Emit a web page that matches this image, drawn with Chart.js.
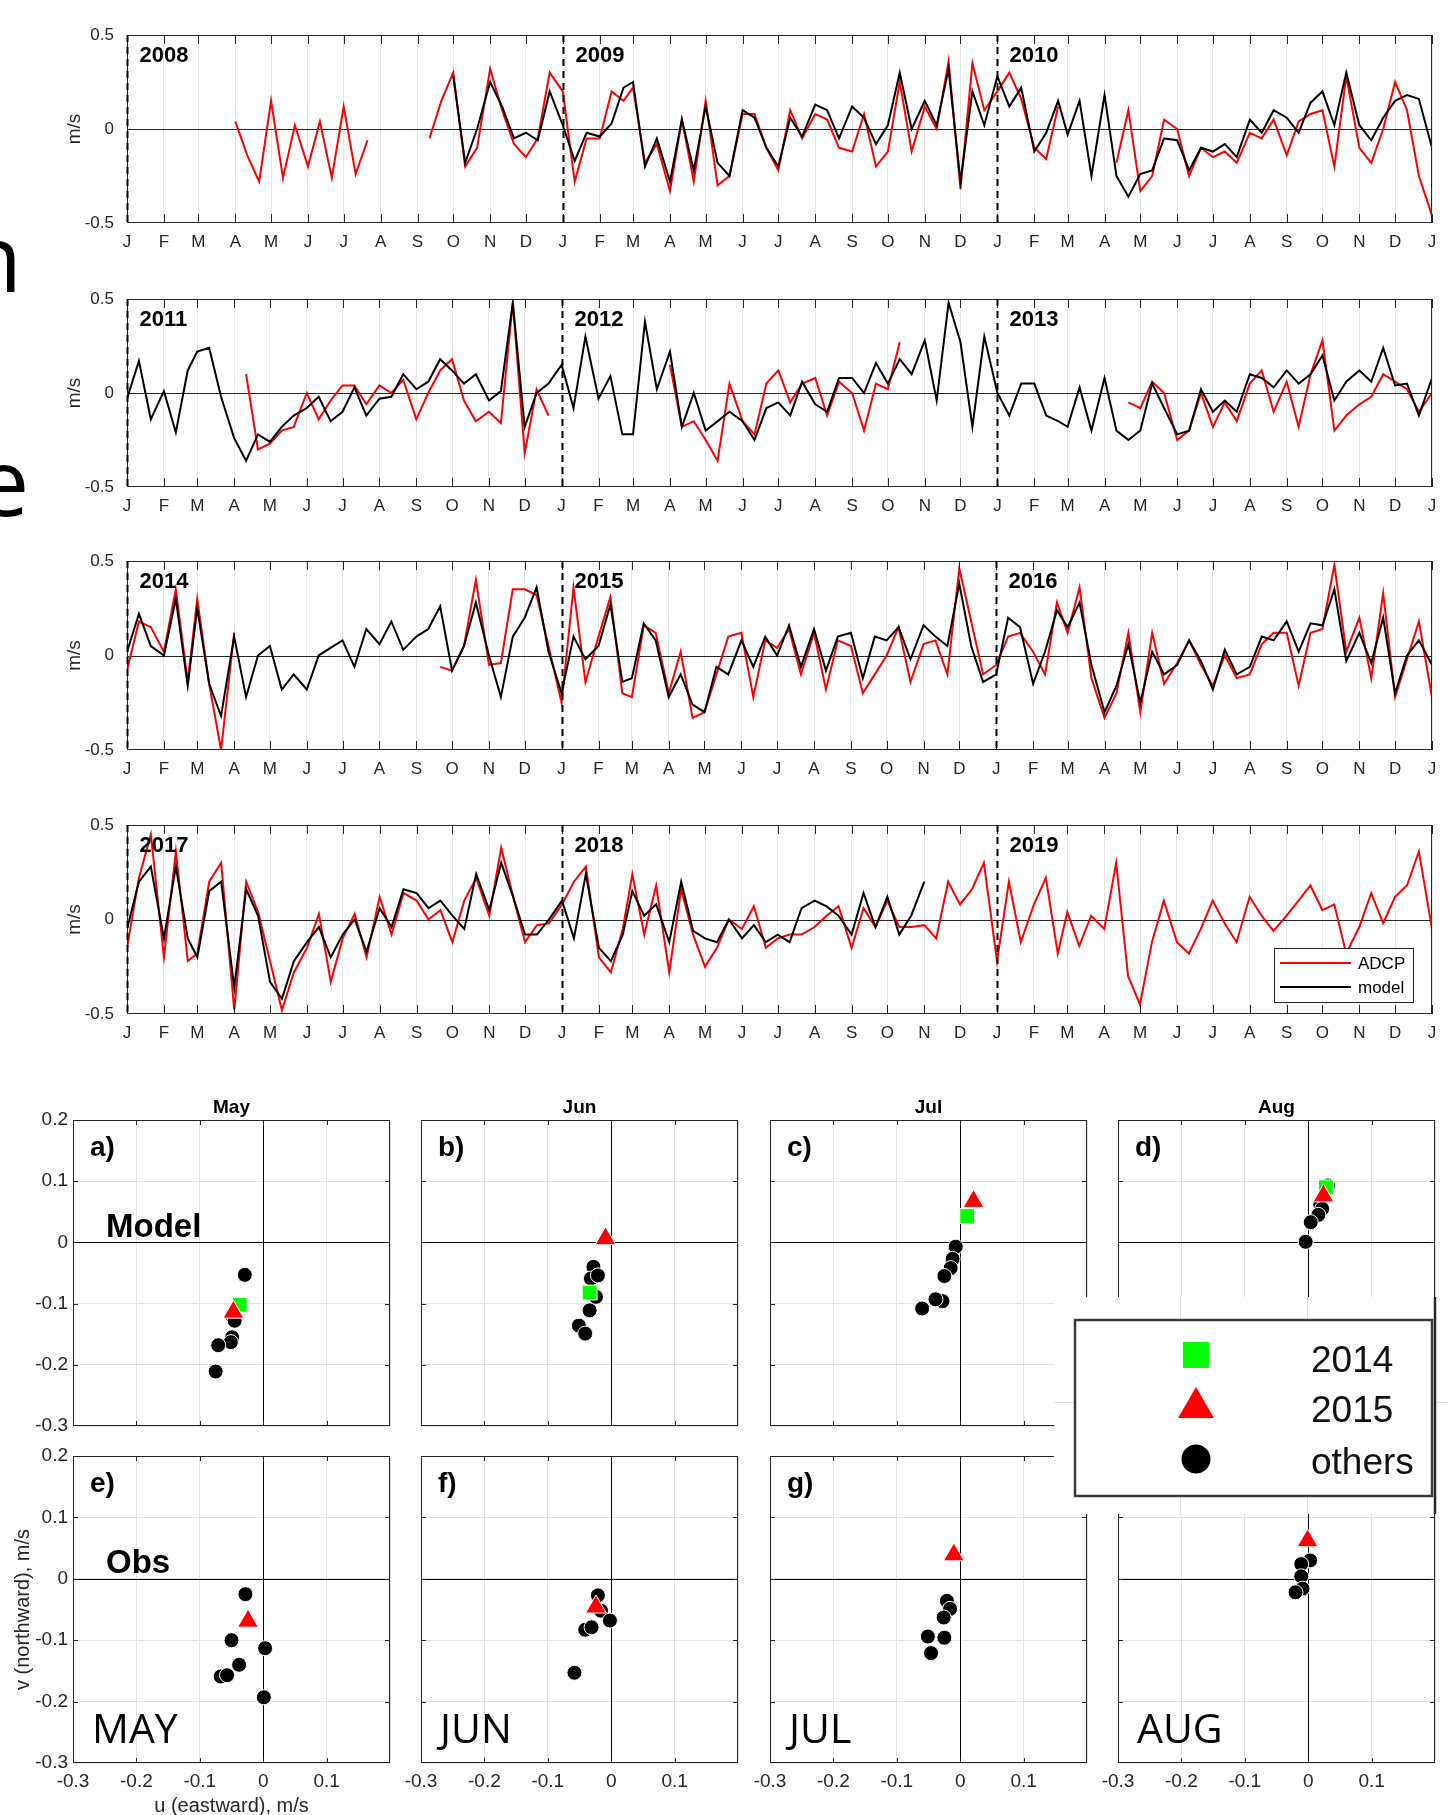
<!DOCTYPE html>
<html>
<head>
<meta charset="utf-8">
<title>ADCP vs model</title>
<script src="https://cdn.jsdelivr.net/npm/chart.js@4.4.1/dist/chart.umd.min.js"></script>
<style>
  html, body { margin: 0; background: #fff; }
  body { position: relative; width: 1448px; height: 1815px; overflow: hidden; }
  canvas { position: absolute; }
  .slide { position: absolute; font-family: "Open Sans", "Noto Sans", sans-serif; font-size: 93px; line-height: 93px; color: #000; }
</style>
</head>
<body>
<div class="slide" style="left:-35px; top:210px;">n</div>
<div class="slide" style="left:-23px; top:434px;">e</div>
<script>
const FONT = '"Liberation Sans", Arial, Helvetica, sans-serif';
const INK = '#262626';
Chart.defaults.font.family = FONT;
Chart.defaults.color = INK;

const monthLetters = ['J', 'F', 'M', 'A', 'M', 'J', 'J', 'A', 'S', 'O', 'N', 'D'];
const sampleDays = [1, 11, 21];   // three readings per month

// velocity, m/s (ADCP = red, model = black), 3 values per month Jan..Dec
const adcp2008 = [
  null, null, null,  null, null, null,  null, null, null,  0.04, -0.14, -0.28,
  0.15, -0.26, 0.02,  -0.2, 0.04, -0.26,  0.12, -0.24, -0.06,  null, null, null,
  null, -0.05, 0.15,  0.3, -0.2, -0.1,  0.32, 0.1, -0.08,  -0.15, -0.05, 0.3
];
const model2008 = [
  null, null, null,  null, null, null,  null, null, null,  null, null, null,
  null, null, null,  null, null, null,  null, null, null,  null, null, null,
  null, null, null,  0.28, -0.18, 0.0,  0.25, 0.12, -0.05,  -0.02, -0.06, 0.2
];
const adcp2009 = [
  0.2, -0.28, -0.05,  -0.05, 0.2, 0.15,  0.22, -0.18, -0.08,  -0.33, 0.05, -0.28,
  0.15, -0.3, -0.25,  0.08, 0.08, -0.1,  -0.22, 0.1, -0.05,  0.08, 0.05, -0.1,
  -0.12, 0.08, -0.2,  -0.12, 0.25, -0.12,  0.12, 0.0, 0.36,  -0.32, 0.35, 0.1
];
const model2009 = [
  0.02, -0.17, -0.02,  -0.04, 0.03, 0.22,  0.25, -0.2, -0.05,  -0.28, 0.05, -0.22,
  0.12, -0.18, -0.25,  0.1, 0.06, -0.1,  -0.2, 0.06, -0.04,  0.13, 0.1, -0.05,
  0.12, 0.06, -0.08,  0.02, 0.3, 0.0,  0.15, 0.02, 0.32,  -0.28, 0.2, 0.02
];
const adcp2010 = [
  0.2, 0.3, 0.16,  -0.1, -0.16, 0.12,  null, null, null,  null, -0.18, 0.1,
  -0.33, -0.25, 0.05,  0.0, -0.25, -0.1,  -0.15, -0.12, -0.18,  -0.02, -0.05, 0.05,
  -0.14, 0.04, 0.08,  0.1, -0.2, 0.28,  -0.1, -0.18, 0.0,  0.25, 0.1, -0.25
];
const model2010 = [
  0.28, 0.12, 0.22,  -0.12, -0.02, 0.15,  -0.03, 0.15, -0.25,  0.18, -0.25, -0.36,
  -0.24, -0.22, -0.05,  -0.06, -0.22, -0.1,  -0.12, -0.08, -0.15,  0.05, -0.02, 0.1,
  0.06, -0.02, 0.14,  0.2, 0.02, 0.3,  0.02, -0.06, 0.06,  0.15, 0.18, 0.16
];
const adcp2011 = [
  null, null, null,  null, null, null,  null, null, null,  null, 0.1, -0.3,
  -0.27, -0.2, -0.18,  0.0, -0.14, -0.04,  0.04, 0.04, -0.06,  0.04, 0.0, 0.07,
  -0.14, 0.0, 0.12,  0.18, -0.04, -0.15,  -0.1, -0.16, 0.48,  -0.32, 0.02, -0.12
];
const model2011 = [
  -0.03, 0.17, -0.14,  0.01, -0.21, 0.12,  0.22, 0.24, -0.02,  -0.24, -0.36, -0.22,
  -0.26, -0.18, -0.12,  -0.08, -0.02, -0.15,  -0.1, 0.03, -0.12,  -0.03, -0.02, 0.1,
  0.02, 0.06, 0.18,  0.12, 0.05, 0.1,  -0.04, 0.01, 0.48,  -0.18, 0.0, 0.05
];
const adcp2012 = [
  null, null, null,  null, null, null,  null, null, null,  0.15, -0.18, -0.15,
  -0.25, -0.36, 0.05,  -0.15, -0.22, 0.05,  0.12, -0.05, 0.05,  0.08, -0.12, 0.06,
  0.0, -0.2, 0.05,  0.02, 0.27, null,  null, null, null,  null, null, null
];
const model2012 = [
  0.15, -0.08, 0.3,  -0.03, 0.09, -0.22,  -0.22, 0.38, 0.02,  0.22, -0.18, 0.0,
  -0.2, -0.15, -0.1,  -0.15, -0.25, -0.08,  -0.05, -0.12, 0.06,  -0.06, -0.1, 0.08,
  0.08, 0.0, 0.16,  0.05, 0.18, 0.1,  0.28, -0.04, 0.48,  0.27, -0.18, 0.3
];
const adcp2013 = [
  null, null, null,  null, null, null,  null, null, null,  null, null, -0.05,
  -0.08, 0.06, 0.0,  -0.25, -0.2, 0.0,  -0.18, -0.05, -0.15,  0.05, 0.12, -0.1,
  0.06, -0.18, 0.1,  0.28, -0.2, -0.12,  -0.06, -0.02, 0.1,  0.06, 0.02, -0.1
];
const model2013 = [
  0.0, -0.12, 0.05,  0.05, -0.12, -0.15,  -0.18, 0.03, -0.2,  0.08, -0.2, -0.25,
  -0.2, 0.05, -0.08,  -0.22, -0.2, 0.02,  -0.1, -0.04, -0.1,  0.1, 0.08, 0.03,
  0.12, 0.05, 0.1,  0.2, -0.04, 0.06,  0.12, 0.06, 0.24,  0.04, 0.05, -0.12
];
const adcp2014 = [
  -0.08, 0.18, 0.15,  0.02, 0.35, -0.14,  0.3, -0.15, -0.5,  0.12, null, null,
  null, null, null,  null, null, null,  null, null, null,  null, null, null,
  null, null, -0.06,  -0.08, 0.05, 0.4,  -0.05, -0.04, 0.35,  0.35, 0.32, 0.05
];
const model2014 = [
  0.02, 0.22, 0.05,  0.0, 0.3, -0.16,  0.25, -0.15, -0.32,  0.1, -0.22, 0.0,
  0.05, -0.18, -0.1,  -0.18, 0.0, 0.04,  0.08, -0.06, 0.14,  0.06, 0.18, 0.03,
  0.1, 0.14, 0.26,  -0.08, 0.05, 0.28,  0.0, -0.22, 0.1,  0.2, 0.36, 0.02
];
const adcp2015 = [
  -0.25, 0.36, -0.14,  0.1, 0.31, -0.2,  -0.22, 0.16, 0.12,  -0.2, 0.02, -0.33,
  -0.3, -0.1, 0.1,  0.12, -0.22, 0.08,  0.04, 0.14, -0.1,  0.12, -0.18, 0.08,
  0.05, -0.2, -0.1,  0.0, 0.15, -0.14,  0.06, 0.08, -0.1,  0.46, 0.18, -0.1
];
const model2015 = [
  -0.2, 0.1, -0.02,  0.05, 0.27, -0.14,  -0.12, 0.17, 0.08,  -0.22, -0.1, -0.26,
  -0.3, -0.06, -0.1,  0.08, -0.06, 0.1,  0.0, 0.16, -0.06,  0.14, -0.08, 0.1,
  0.12, -0.12, 0.1,  0.08, 0.15, -0.02,  0.16, 0.1, 0.05,  0.38, 0.05, -0.14
];
const adcp2016 = [
  -0.05, 0.1, 0.12,  0.02, -0.1, 0.28,  0.12, 0.36, -0.12,  -0.33, -0.2, 0.12,
  -0.3, 0.12, -0.15,  -0.04, 0.08, -0.05,  -0.16, 0.0, -0.12,  -0.1, 0.06, 0.12,
  0.12, -0.16, 0.12,  0.14, 0.48, 0.02,  0.2, -0.12, 0.33,  -0.22, -0.02, 0.18
];
const model2016 = [
  -0.1, 0.2, 0.15,  -0.15, 0.02, 0.24,  0.15, 0.28, -0.05,  -0.3, -0.16, 0.06,
  -0.25, 0.02, -0.1,  -0.05, 0.08, -0.03,  -0.18, 0.03, -0.1,  -0.06, 0.1, 0.08,
  0.18, 0.02, 0.17,  0.16, 0.35, -0.03,  0.12, -0.04, 0.2,  -0.2, 0.0, 0.08
];
const adcp2017 = [
  -0.15, 0.22, 0.45,  -0.2, 0.36, -0.22,  -0.18, 0.2, 0.3,  -0.48, 0.2, 0.04,
  -0.22, -0.48, -0.28,  -0.15, 0.03, -0.33,  -0.1, 0.03, -0.2,  0.12, -0.08, 0.14,
  0.1, 0.0, 0.05,  -0.12, 0.1, 0.22,  0.02, 0.38, 0.12,  -0.12, -0.03, -0.02
];
const model2017 = [
  -0.05, 0.2, 0.28,  -0.1, 0.28, -0.1,  -0.2, 0.15, 0.2,  -0.36, 0.16, 0.02,
  -0.33, -0.42, -0.22,  -0.12, -0.04, -0.2,  -0.08, 0.0, -0.17,  0.06, -0.04, 0.16,
  0.14, 0.06, 0.1,  0.02, -0.05, 0.24,  0.05, 0.3, 0.12,  -0.08, -0.08, 0.0
];
const adcp2018 = [
  0.08, 0.2, 0.28,  -0.2, -0.28, -0.05,  0.24, -0.08, 0.18,  -0.28, 0.16, -0.08,
  -0.25, -0.15, 0.0,  -0.05, 0.07, -0.15,  -0.1, -0.08, -0.08,  -0.04, 0.02, 0.07,
  -0.15, 0.06, -0.04,  0.1, -0.04, -0.04,  -0.03, -0.1, 0.2,  0.08, 0.16, 0.3
];
const model2018 = [
  0.1, -0.1, 0.24,  -0.15, -0.22, -0.08,  0.15, 0.02, 0.08,  -0.12, 0.2, -0.06,
  -0.1, -0.12, 0.0,  -0.1, -0.03, -0.12,  -0.08, -0.12, 0.06,  0.1, 0.07, 0.02,
  -0.08, 0.14, -0.04,  0.12, -0.08, 0.02,  0.2, null, null,  null, null, null
];
const adcp2019 = [
  -0.22, 0.2, -0.12,  0.08, 0.22, -0.18,  0.04, -0.14, 0.02,  -0.05, 0.3, -0.3,
  -0.45, -0.12, 0.1,  -0.12, -0.18, -0.05,  0.1, -0.02, -0.12,  0.12, 0.02, -0.06,
  0.02, 0.1, 0.18,  0.05, 0.08, -0.18,  -0.04, 0.14, -0.02,  0.12, 0.18, 0.36
];
const model2019 = [];
// value on 1 Jan after the last year of each panel
const adcpEnd = [-0.46, 0.0, -0.22, -0.05];
const modelEnd = [-0.1, 0.08, -0.05, null];

// monthly mean (u, v) in m/s, one pair per year
const mayModelOthers = [[-0.029, -0.053], [-0.049, -0.120], [-0.045, -0.128], [-0.049, -0.155], [-0.051, -0.163], [-0.071, -0.168], [-0.075, -0.211]];
const mayModel2014 = [[-0.037, -0.102]];
const mayModel2015 = [[-0.047, -0.114]];
const junModelOthers = [[-0.028, -0.040], [-0.032, -0.059], [-0.021, -0.054], [-0.024, -0.089], [-0.034, -0.111], [-0.051, -0.136], [-0.041, -0.149]];
const junModel2014 = [[-0.034, -0.082]];
const junModel2015 = [[-0.009, 0.006]];
const julModelOthers = [[-0.007, -0.007], [-0.012, -0.027], [-0.015, -0.042], [-0.025, -0.055], [-0.028, -0.096], [-0.039, -0.093], [-0.060, -0.108]];
const julModel2014 = [[0.011, 0.043]];
const julModel2015 = [[0.021, 0.067]];
const augModelOthers = [[0.031, 0.093], [0.019, 0.062], [0.022, 0.055], [0.016, 0.045], [0.004, 0.033], [-0.004, 0.001]];
const augModel2014 = [[0.028, 0.090]];
const augModel2015 = [[0.024, 0.076]];
const mayObsOthers = [[-0.028, -0.025], [-0.050, -0.100], [0.003, -0.113], [-0.038, -0.140], [-0.067, -0.159], [-0.057, -0.157], [0.001, -0.193]];
const mayObs2015 = [[-0.024, -0.069]];
const junObsOthers = [[-0.021, -0.027], [-0.016, -0.052], [-0.002, -0.068], [-0.041, -0.083], [-0.031, -0.079], [-0.058, -0.153]];
const junObs2015 = [[-0.024, -0.046]];
const julObsOthers = [[-0.021, -0.036], [-0.016, -0.049], [-0.026, -0.063], [-0.051, -0.094], [-0.025, -0.096], [-0.046, -0.121]];
const julObs2015 = [[-0.010, 0.039]];
const augObsOthers = [[0.003, 0.030], [-0.011, 0.024], [-0.011, 0.004], [-0.009, -0.016], [-0.020, -0.022]];
const augObs2015 = [[-0.001, 0.062]];
const groupNames = ['2014', '2015', 'others'];

const DAY = 864e5;
function dayOf(y0, y, m, d) {
  return (Date.UTC(y, m, d) - Date.UTC(y0, 0, 1)) / DAY;
}
function seriesPoints(y0, years, endVal) {
  const pts = [];
  years.forEach((vals, k) => vals.forEach((v, i) => {
    pts.push({ x: dayOf(y0, y0 + k, Math.floor(i / 3), sampleDays[i % 3]), y: v });
  }));
  if (endVal !== null) pts.push({ x: dayOf(y0, y0 + 3, 0, 1), y: endVal });
  return pts;
}
function addCanvas(left, top, w, h) {
  const c = document.createElement('canvas');
  c.width = w; c.height = h;
  Object.assign(c.style, { left: left + 'px', top: top + 'px', width: w + 'px', height: h + 'px' });
  document.body.appendChild(c);
  return c;
}
function zeroPad(s) {
  s.paddingLeft = s.paddingRight = s.paddingTop = s.paddingBottom = 0;
}

// ---------- time series ----------
const tsDecor = {
  id: 'tsDecor',
  beforeDatasetsDraw(chart) {
    const { ctx, chartArea: a, scales: { y } } = chart;
    const y0 = Math.round(y.getPixelForValue(0)) + 0.5;
    ctx.save();
    ctx.strokeStyle = INK; ctx.lineWidth = 1;
    ctx.beginPath(); ctx.moveTo(a.left, y0); ctx.lineTo(a.right, y0); ctx.stroke();
    ctx.restore();
  },
  afterDatasetsDraw(chart) {
    const m = chart.canvas.meta;
    const { ctx, chartArea: a, scales: { x } } = chart;
    ctx.save();
    ctx.strokeStyle = INK; ctx.lineWidth = 1;
    ctx.beginPath();
    x.ticks.forEach(t => {
      const px = Math.round(x.getPixelForValue(t.value)) + 0.5;
      ctx.moveTo(px, a.top); ctx.lineTo(px, a.top + 9);
      ctx.moveTo(px, a.bottom); ctx.lineTo(px, a.bottom - 9);
    });
    ctx.stroke();
    ctx.strokeRect(a.left + 0.5, a.top + 0.5, a.right - a.left - 1, a.bottom - a.top - 1);

    m.yearStarts.forEach((d, k) => {
      const px = Math.round(x.getPixelForValue(d)) + 0.5;
      ctx.setLineDash([7, 5]);
      ctx.strokeStyle = '#000'; ctx.lineWidth = 2;
      ctx.beginPath(); ctx.moveTo(px, a.top); ctx.lineTo(px, a.bottom); ctx.stroke();
      ctx.setLineDash([]);
      ctx.fillStyle = '#000';
      ctx.font = 'bold 22px ' + FONT;
      ctx.textAlign = 'left'; ctx.textBaseline = 'alphabetic';
      ctx.fillText(String(m.year + k), px + 12, a.top + 27);
    });

    if (m.legend) {
      ctx.translate(-m.ox, -m.oy);
      ctx.fillStyle = '#fff'; ctx.fillRect(1274, 948, 139, 54);
      ctx.strokeStyle = INK; ctx.lineWidth = 1;
      ctx.strokeRect(1274.5, 948.5, 139, 54);
      chart.data.datasets.forEach((ds, i) => {
        const ly = 963 + i * 24;
        ctx.strokeStyle = ds.borderColor; ctx.lineWidth = 2;
        ctx.beginPath(); ctx.moveTo(1280, ly); ctx.lineTo(1351, ly); ctx.stroke();
        ctx.fillStyle = '#000'; ctx.font = '17px ' + FONT;
        ctx.textAlign = 'left'; ctx.textBaseline = 'middle';
        ctx.fillText(ds.label, 1358, ly + 1);
      });
    }
    ctx.restore();
  }
};

const panelYears = [2008, 2011, 2014, 2017];
const panelTops = [35, 299, 561, 825];
const panelBottoms = [223, 487, 750, 1014];
const adcpPanels = [[adcp2008, adcp2009, adcp2010], [adcp2011, adcp2012, adcp2013], [adcp2014, adcp2015, adcp2016], [adcp2017, adcp2018, adcp2019]];
const modelPanels = [[model2008, model2009, model2010], [model2011, model2012, model2013], [model2014, model2015, model2016], [model2017, model2018, model2019]];

panelYears.forEach((y0, p) => {
  const padTop = 20, padBottom = 38;
  const top = panelTops[p], H = panelBottoms[p] - top;
  const oy = top - padTop;
  const cv = addCanvas(0, oy, 1448, padTop + H + padBottom);
  const monthTicks = [];
  for (let m = 0; m <= 36; m++) monthTicks.push(dayOf(y0, y0, m, 1));
  cv.meta = { year: y0, yearStarts: [0, 1, 2].map(k => dayOf(y0, y0 + k, 0, 1)), legend: p === 3, ox: 0, oy };

  new Chart(cv, {
    type: 'line',
    data: {
      datasets: [
        { label: 'ADCP', data: seriesPoints(y0, adcpPanels[p], adcpEnd[p]), borderColor: '#ff0000', borderWidth: 2, pointRadius: 0, tension: 0, spanGaps: false, order: 2 },
        { label: 'model', data: seriesPoints(y0, modelPanels[p], modelEnd[p]), borderColor: '#000000', borderWidth: 2, pointRadius: 0, tension: 0, spanGaps: false, order: 1 }
      ]
    },
    options: {
      responsive: false, animation: false, events: [], devicePixelRatio: 1,
      layout: { padding: { left: 57, right: 16, top: padTop, bottom: 0 } },
      plugins: { legend: { display: false }, tooltip: { enabled: false } },
      scales: {
        x: {
          type: 'linear', min: 0, max: monthTicks[36],
          afterBuildTicks: s => { s.ticks = monthTicks.map(v => ({ value: v })); },
          ticks: { autoSkip: false, maxRotation: 0, padding: 9, font: { size: 17 }, callback: (v, i) => monthLetters[i % 12] },
          grid: { color: '#e6e6e6', drawTicks: false },
          border: { display: false },
          afterFit: s => { s.height = padBottom; zeroPad(s); }
        },
        y: {
          min: -0.5, max: 0.5,
          afterBuildTicks: s => { s.ticks = [-0.5, 0, 0.5].map(v => ({ value: v })); },
          ticks: { padding: 5, font: { size: 17 }, callback: v => String(v) },
          grid: { display: false },
          border: { display: false },
          title: { display: true, text: 'm/s', font: { size: 19 }, padding: { top: 6, bottom: 0 } },
          afterFit: s => { s.width = 70; zeroPad(s); }
        }
      }
    },
    plugins: [tsDecor]
  });
});

// ---------- monthly scatter panels ----------
const colLeft = [73, 421, 770, 1118];
const rowTop = [1120, 1456];
const rowHeight = [306, 307];
const panelWidth = 317;
const gridVals = [-0.3, -0.2, -0.1, 0, 0.1, 0.2];
const fmt = v => String(Math.round(v * 10) / 10);
const toXY = pairs => pairs.map(([u, v]) => ({ x: u, y: v }));

function drawYearLegend(ctx) {
  ctx.fillStyle = '#fff'; ctx.fillRect(1054, 1297, 391, 217);
  ctx.strokeStyle = '#e1e1e1'; ctx.lineWidth = 1;
  ctx.beginPath();
  [1180.5, 1307.5].forEach(gx => {
    ctx.moveTo(gx, 1297); ctx.lineTo(gx, 1320);
    ctx.moveTo(gx, 1496); ctx.lineTo(gx, 1514);
  });
  ctx.moveTo(1054, 1402.5); ctx.lineTo(1075, 1402.5);
  ctx.moveTo(1432, 1402.5); ctx.lineTo(1448, 1402.5);
  ctx.stroke();
  ctx.strokeStyle = INK; ctx.lineWidth = 2.5;
  ctx.beginPath(); ctx.moveTo(1435, 1297); ctx.lineTo(1435, 1514); ctx.stroke();
  ctx.fillStyle = '#fff'; ctx.fillRect(1075, 1320, 357, 176);
  ctx.strokeStyle = '#3a3a3a'; ctx.lineWidth = 2.5; ctx.strokeRect(1075, 1320, 357, 176);

  ctx.fillStyle = '#00ff00'; ctx.fillRect(1183, 1342, 26, 26);
  ctx.fillStyle = '#ff0000';
  ctx.beginPath(); ctx.moveTo(1196, 1387); ctx.lineTo(1214, 1418); ctx.lineTo(1178, 1418); ctx.closePath(); ctx.fill();
  ctx.fillStyle = '#000';
  ctx.beginPath(); ctx.arc(1196, 1459, 14.5, 0, Math.PI * 2); ctx.fill();

  ctx.fillStyle = '#111'; ctx.font = '37px ' + FONT;
  ctx.textAlign = 'left'; ctx.textBaseline = 'alphabetic';
  ctx.fillText(groupNames[0], 1311, 1372);
  ctx.fillText(groupNames[1], 1311, 1422);
  ctx.fillText(groupNames[2], 1311, 1474);
}

const scDecor = {
  id: 'scDecor',
  beforeDatasetsDraw(chart) {
    const { ctx, chartArea: a, scales: { x, y } } = chart;
    const x0 = Math.round(x.getPixelForValue(0)) + 0.5;
    const y0 = Math.round(y.getPixelForValue(0)) + 0.5;
    ctx.save();
    ctx.strokeStyle = '#000'; ctx.lineWidth = 1;
    ctx.beginPath();
    ctx.moveTo(a.left, y0); ctx.lineTo(a.right, y0);
    ctx.moveTo(x0, a.top); ctx.lineTo(x0, a.bottom);
    ctx.stroke();
    ctx.restore();
  },
  afterDatasetsDraw(chart) {
    const m = chart.canvas.meta;
    const { ctx, chartArea: a, scales: { x, y } } = chart;
    ctx.save();
    ctx.strokeStyle = INK; ctx.lineWidth = 1;
    ctx.strokeRect(a.left + 0.5, a.top + 0.5, a.right - a.left - 1, a.bottom - a.top - 1);
    ctx.beginPath();
    gridVals.slice(1, -1).forEach(v => {
      const px = Math.round(x.getPixelForValue(v)) + 0.5;
      const py = Math.round(y.getPixelForValue(v)) + 0.5;
      ctx.moveTo(px, a.top); ctx.lineTo(px, a.top + 5);
      ctx.moveTo(px, a.bottom); ctx.lineTo(px, a.bottom - 5);
      ctx.moveTo(a.left, py); ctx.lineTo(a.left + 5, py);
      ctx.moveTo(a.right, py); ctx.lineTo(a.right - 5, py);
    });
    ctx.stroke();

    ctx.fillStyle = '#000';
    ctx.textAlign = 'left'; ctx.textBaseline = 'alphabetic';
    if (m.title) {
      ctx.font = 'bold 19px ' + FONT;
      ctx.textAlign = 'center'; ctx.textBaseline = 'middle';
      ctx.fillText(m.title, (a.left + a.right) / 2, a.top - 12);
      ctx.textAlign = 'left'; ctx.textBaseline = 'alphabetic';
    }
    ctx.font = 'bold 28px ' + FONT;
    ctx.fillText(m.letter, a.left + 17, a.top + 36);
    if (m.tag) {
      ctx.font = 'bold 33px ' + FONT;
      ctx.fillText(m.tag, a.left + 33, a.top + 117);
    }
    if (m.month) {
      ctx.font = '41px "Open Sans", "Noto Sans", sans-serif';
      ctx.fillText(m.month, a.left + 19, a.top + 287);
    }
    ctx.restore();
  },
  afterDraw(chart) {
    const m = chart.canvas.meta;
    if (!m.legend) return;
    const ctx = chart.ctx;
    ctx.save();
    ctx.translate(-m.ox, -m.oy);
    drawYearLegend(ctx);
    ctx.restore();
  }
};

const scatterPanels = [
  { row: 0, col: 0, others: mayModelOthers, y2014: mayModel2014, y2015: mayModel2015, letter: 'a)', tag: 'Model', title: 'May' },
  { row: 0, col: 1, others: junModelOthers, y2014: junModel2014, y2015: junModel2015, letter: 'b)', title: 'Jun' },
  { row: 0, col: 2, others: julModelOthers, y2014: julModel2014, y2015: julModel2015, letter: 'c)', title: 'Jul' },
  { row: 0, col: 3, others: augModelOthers, y2014: augModel2014, y2015: augModel2015, letter: 'd)', title: 'Aug' },
  { row: 1, col: 0, others: mayObsOthers, y2014: [], y2015: mayObs2015, letter: 'e)', tag: 'Obs', month: 'MAY' },
  { row: 1, col: 1, others: junObsOthers, y2014: [], y2015: junObs2015, letter: 'f)', month: 'JUN' },
  { row: 1, col: 2, others: julObsOthers, y2014: [], y2015: julObs2015, letter: 'g)', month: 'JUL' },
  { row: 1, col: 3, others: augObsOthers, y2014: [], y2015: augObs2015, letter: 'h)', month: 'AUG', legend: true }
];

scatterPanels.forEach(sp => {
  const L = colLeft[sp.col], T = rowTop[sp.row], H = rowHeight[sp.row];
  const padTop = sp.legend ? T - 1290 : 40;
  const padBottom = sp.row === 1 ? 55 : 14;
  const ox = L - 73, oy = T - padTop;
  const cv = addCanvas(ox, oy, panelWidth + 87, padTop + H + padBottom);
  cv.meta = Object.assign({}, sp, { ox, oy });
  const showX = sp.row === 1, showY = sp.col === 0;
  const firstLabelled = sp.row === 1 && sp.col === 0;

  new Chart(cv, {
    type: 'scatter',
    data: {
      datasets: [
        { label: groupNames[1], data: toXY(sp.y2015), pointStyle: 'triangle', pointRadius: 12, backgroundColor: '#ff0000', borderColor: '#ffffff', borderWidth: 1, order: 1 },
        { label: groupNames[0], data: toXY(sp.y2014), pointStyle: 'rect', pointRadius: 10.5, backgroundColor: '#00ff00', borderColor: '#ffffff', borderWidth: 1, order: 2 },
        { label: groupNames[2], data: toXY(sp.others), pointStyle: 'circle', pointRadius: 7.5, backgroundColor: '#000000', borderColor: '#ffffff', borderWidth: 1, order: 3 }
      ]
    },
    options: {
      responsive: false, animation: false, events: [], devicePixelRatio: 1,
      layout: { padding: { left: 0, right: 14, top: padTop, bottom: 0 } },
      plugins: { legend: { display: false }, tooltip: { enabled: false } },
      scales: {
        x: {
          min: -0.3, max: 0.2,
          afterBuildTicks: s => { s.ticks = gridVals.map(v => ({ value: v })); },
          ticks: { display: showX, autoSkip: false, maxRotation: 0, padding: 7, font: { size: 19 }, callback: v => (Math.abs(v - 0.2) < 1e-9 ? '' : fmt(v)) },
          grid: { color: '#e1e1e1', drawTicks: false },
          border: { display: false },
          title: { display: firstLabelled, text: 'u (eastward), m/s', font: { size: 20 }, padding: { top: 0, bottom: 0 } },
          afterFit: s => { s.height = padBottom; zeroPad(s); }
        },
        y: {
          min: -0.3, max: 0.2,
          afterBuildTicks: s => { s.ticks = gridVals.map(v => ({ value: v })); },
          ticks: { display: showY, autoSkip: false, padding: 5, font: { size: 19 }, callback: v => fmt(v) },
          grid: { color: '#e1e1e1', drawTicks: false },
          border: { display: false },
          title: { display: firstLabelled, text: 'v (northward), m/s', font: { size: 20 }, padding: { top: 11, bottom: 0 } },
          afterFit: s => { s.width = 73; zeroPad(s); }
        }
      }
    },
    plugins: [scDecor]
  });
});
</script>
</body>
</html>
